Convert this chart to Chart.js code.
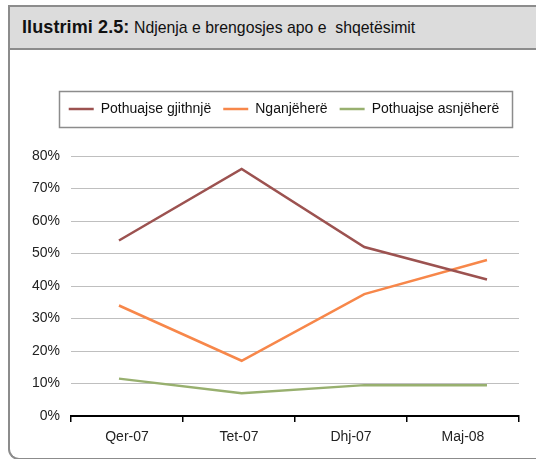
<!DOCTYPE html>
<html>
<head>
<meta charset="utf-8">
<script src="https://cdn.jsdelivr.net/npm/chart.js@4.4.1/dist/chart.umd.min.js"></script>
<style>
  html, body { margin: 0; padding: 0; background: #fff; }
  body { width: 536px; height: 459px; overflow: hidden; position: relative; }
  #frame {
    position: absolute; left: 8px; top: 5px; width: 540px; height: 455px;
    box-sizing: border-box; border: 2px solid #8c8c8c; border-right: none;
    border-bottom-left-radius: 11px; background: #fff;
  }
  #titlebar {
    position: absolute; left: 0; top: 0; right: 0; height: 41px;
    background: #dcdcdc; border-bottom: 2px solid #8c8c8c;
  }
  #title {
    position: absolute; left: 12px; top: 10px; white-space: nowrap; color: #111;
    font-family: 'Liberation Sans', Arial, sans-serif; font-size: 17px;
  }
  #title b { font-size: 18px; letter-spacing: 0.1px; }
  #title span { display: inline-block; transform: scaleX(0.93); transform-origin: left center; }
  #wrap { position: absolute; left: 0; top: 0; width: 536px; height: 459px; }
</style>
</head>
<body>
<div id="frame">
  <div id="titlebar"><div id="title"><b>Ilustrimi 2.5:</b> <span>Ndjenja e brengosjes apo e&nbsp; shqetësimit</span></div></div>
</div>
<div id="wrap"><canvas id="c" width="536" height="459"></canvas></div>
<script>
const categories = ['Qer-07', 'Tet-07', 'Dhj-07', 'Maj-08'];
const seriesNames = ['Pothuajse gjithnjë', 'Nganjëherë', 'Pothuajse asnjëherë'];
const almostAlways = [54, 76, 52, 42];
const sometimes = [34, 17, 37.5, 48];
const almostNever = [11.5, 7, 9.5, 9.5];
const seriesColors = ['#9c5250', '#f7874a', '#98b06f'];

const FONT = "'Liberation Sans', Arial, sans-serif";

function toPoints(vals) { return vals.map((v, i) => ({ x: i, y: v })); }

const legendBoxPlugin = {
  id: 'legendBox',
  beforeInit(chart) {
    const lg = chart.legend;
    if (lg && !lg._patched) {
      const fit = lg.fit;
      lg.fit = function () { fit.call(this); this.height += 30; };
      lg._patched = true;
    }
  },
  afterDraw(chart) {
    const hb = chart.legend.legendHitBoxes;
    if (!hb || !hb.length) return;
    const left = Math.min(...hb.map(h => h.left)) - 10;
    const right = Math.max(...hb.map(h => h.left + h.width)) + 12;
    const top = Math.min(...hb.map(h => h.top));
    const bottom = Math.max(...hb.map(h => h.top + h.height));
    const cy = (top + bottom) / 2;
    const ctx = chart.ctx;
    ctx.save();
    ctx.strokeStyle = '#8c8c8c';
    ctx.lineWidth = 1.5;
    ctx.strokeRect(Math.round(left) + 0.5, Math.round(cy - 18) + 0.5, Math.round(right - left), 36);
    ctx.restore();
  }
};

new Chart(document.getElementById('c'), {
  type: 'line',
  data: {
    labels: categories,
    datasets: [almostAlways, sometimes, almostNever].map((vals, k) => ({
      label: seriesNames[k],
      data: toPoints(vals),
      xAxisID: 'xd',
      borderColor: seriesColors[k],
      backgroundColor: seriesColors[k],
      borderWidth: 2.5,
      pointRadius: 0,
      tension: 0,
      fill: false
    }))
  },
  options: {
    responsive: false,
    animation: false,
    layout: { padding: { left: 32, right: 0, top: 90, bottom: 0 } },
    plugins: {
      tooltip: { enabled: false },
      legend: {
        position: 'top',
        labels: {
          font: { family: FONT, size: 14 },
          color: '#111',
          boxWidth: 25,
          boxHeight: 2.5,
          padding: 12,
          generateLabels: chart => Chart.defaults.plugins.legend.labels.generateLabels(chart)
            .map(l => Object.assign(l, { lineWidth: 0 }))
        }
      }
    },
    scales: {
      x: {
        type: 'category',
        offset: true,
        grid: { display: true, offset: true, drawOnChartArea: false, tickLength: 6, color: '#000', lineWidth: 1.5 },
        border: { display: true, color: '#000', width: 2 },
        ticks: { font: { family: FONT, size: 14 }, color: '#222', padding: 7 },
        afterFit: s => { s.height = 43; }
      },
      xd: { type: 'linear', display: false, min: -0.391, max: 3.261 },
      y: {
        min: 0, max: 80,
        ticks: { stepSize: 10, callback: v => v + '%', font: { family: FONT, size: 14 }, color: '#222', padding: 11 },
        grid: { color: '#bfbfbf', lineWidth: 1, drawTicks: false },
        border: { display: false },
        afterFit: s => { s.width = 39; }
      },
      yr: {
        type: 'linear', position: 'right', display: true,
        grid: { display: false, drawTicks: false },
        border: { display: false },
        ticks: { display: false },
        afterFit: s => { s.width = 17; }
      }
    }
  },
  plugins: [legendBoxPlugin]
});
</script>
</body>
</html>
